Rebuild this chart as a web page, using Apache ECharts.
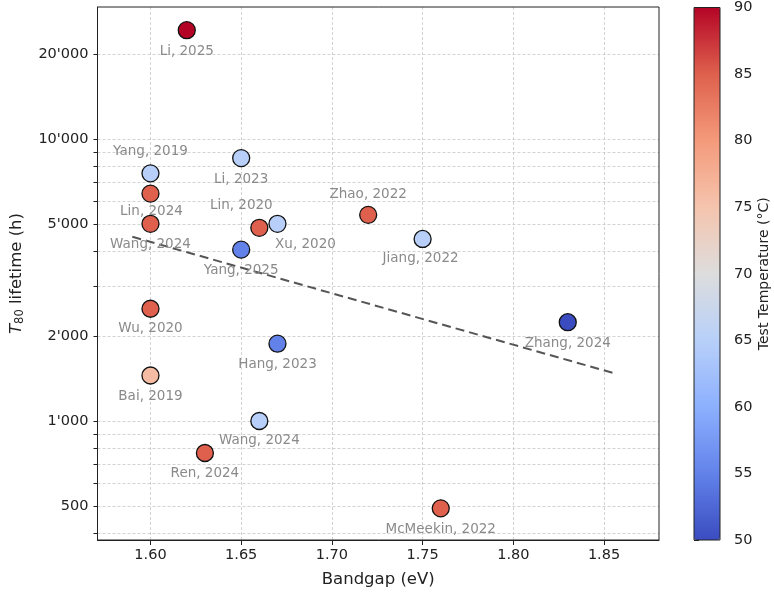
<!DOCTYPE html>
<html>
<head>
<meta charset="utf-8">
<script src="https://cdn.jsdelivr.net/npm/echarts@6/dist/echarts.min.js"></script>
<style>
  html, body { margin: 0; padding: 0; background: #fff; }
  #chart { width: 774px; height: 595px; }
</style>
</head>
<body>
<div id="chart"></div>
<script>
// study labels, bandgap (eV), T80 lifetime (h), test temperature (°C)
var names = ['McMeekin, 2022', 'Ren, 2024', 'Wang, 2024', 'Bai, 2019', 'Hang, 2023', 'Wu, 2020',
  'Zhang, 2024', 'Yang, 2025', 'Jiang, 2022', 'Xu, 2020', 'Lin, 2020', 'Wang, 2024', 'Lin, 2024',
  'Zhao, 2022', 'Yang, 2019', 'Li, 2023', 'Li, 2025'];
var bandgap = [1.76, 1.63, 1.66, 1.60, 1.67, 1.60, 1.83, 1.65, 1.75, 1.67, 1.66, 1.60, 1.60, 1.72, 1.60, 1.65, 1.62];
var lifetime = [490, 770, 1000, 1450, 1880, 2500, 2240, 4050, 4420, 5000, 4840, 5000, 6400, 5380, 7550, 8550, 24300];
var temperature = [85, 85, 65, 76, 55, 85, 50, 55, 65, 65, 85, 85, 85, 85, 65, 65, 90];

// trend line endpoints
var trendX = [1.59, 1.855];
var trendY = [4500, 1480];

var xTicks = [1.60, 1.65, 1.70, 1.75, 1.80, 1.85];
var yLabels = [500, 1000, 2000, 5000, 10000, 20000];
var yTicks = [400, 500, 600, 700, 800, 900, 1000, 2000, 3000, 4000, 5000, 6000, 7000, 8000, 9000, 10000, 20000];

// label offsets (label centre minus marker centre), px
var labelOffsets = [[0, 21], [0, 20], [0, 20], [0, 21], [0, 21], [0, 20], [0, 21], [0, 21], [-2, 20],
  [28, 21], [-18, -22], [0, 21], [1, 18], [0, -20], [0, -22], [0, 21], [0, 21]];

var coolwarm = ['#3b4cc0', '#6282ea', '#8db0fe', '#b8d0f9', '#dddddd', '#f5c4ad', '#f49a7b', '#de604d', '#b40426'];

var points = names.map(function (n, i) {
  return {
    name: n,
    value: [bandgap[i], lifetime[i], temperature[i]],
    label: { offset: labelOffsets[i] }
  };
});

function fmtThousands(v) {
  var s = String(Math.round(v));
  return s.replace(/\B(?=(\d{3})+(?!\d))/g, "'");
}

var dom = document.getElementById('chart');
var myChart = echarts.init(dom);
var font = 'DejaVu Sans';

option = {
  backgroundColor: '#fff',
  animation: false,
  textStyle: { fontFamily: font },
  grid: [
    { left: 97, right: 115, top: 7, bottom: 55, show: true, borderColor: '#222', borderWidth: 1, z: 5 },
    { left: 694, width: 26, top: 7, height: 533, show: true, borderColor: '#222', borderWidth: 1, z: 10 }
  ],
  xAxis: [
    {
      type: 'value', gridIndex: 0, min: 1.5708, max: 1.8803,
      name: 'Bandgap (eV)', nameLocation: 'middle', nameGap: 31,
      nameTextStyle: { fontSize: 16.5, color: '#222', fontFamily: font },
      axisLine: { show: true, lineStyle: { color: '#222', width: 1 } },
      axisTick: { show: true, customValues: xTicks, length: 5, lineStyle: { color: '#222' } },
      axisLabel: { customValues: xTicks, color: '#222', fontSize: 14.5, margin: 8,
        formatter: function (v) { return v.toFixed(2); } },
      splitLine: { show: true, lineStyle: { color: '#c8c8c8', type: [3, 2], width: 0.8 } }
    },
    { type: 'value', gridIndex: 1, min: 0, max: 1, show: false }
  ],
  yAxis: [
    {
      type: 'log', gridIndex: 0, logBase: 10, min: 378.5, max: 29360,
      name: '{it|T}{sub|80} lifetime (h)', nameLocation: 'middle', nameGap: 71, nameRotate: 90,
      nameTextStyle: {
        fontSize: 16.5, color: '#222', fontFamily: font,
        rich: {
          it: { fontSize: 16.5, fontStyle: 'italic', color: '#222', fontFamily: font },
          sub: { fontSize: 11.5, color: '#222', fontFamily: font, padding: [8, 0, 0, 0] }
        }
      },
      axisLine: { show: true, lineStyle: { color: '#222', width: 1 } },
      axisTick: { show: true, customValues: yTicks, length: 4, lineStyle: { color: '#222' } },
      axisLabel: { customValues: yLabels, color: '#222', fontSize: 14.5, margin: 9, formatter: fmtThousands },
      splitLine: { show: true, lineStyle: { color: '#c8c8c8', type: [3, 2], width: 0.8 } },
      minorTick: { show: false }
    },
    {
      type: 'value', gridIndex: 1, position: 'right', min: 50, max: 90, interval: 5,
      name: 'Test Temperature (°C)', nameLocation: 'middle', nameGap: 37, nameRotate: 90,
      nameTextStyle: { fontSize: 14, color: '#222', fontFamily: font },
      axisLine: { show: false },
      axisTick: { show: true, length: 5, lineStyle: { color: '#222' } },
      axisLabel: { color: '#222', fontSize: 14.5, margin: 14 },
      splitLine: { show: false }
    }
  ],
  visualMap: {
    type: 'continuous', min: 50, max: 90, dimension: 2, seriesIndex: 0,
    inRange: { color: coolwarm },
    orient: 'vertical', left: 694, top: 7, itemWidth: 26, itemHeight: 533,
    padding: 0, calculable: false, text: null, showLabel: false, hoverLink: false
  },
  series: [
    {
      type: 'scatter', xAxisIndex: 0, yAxisIndex: 0,
      symbolSize: 17, data: points, z: 3,
      itemStyle: { borderColor: '#111', borderWidth: 1.3, opacity: 1 },
      label: {
        show: true, position: 'inside', color: '#8a8a8a', fontSize: 13.5, fontFamily: font,
        formatter: function (p) { return p.name; }
      }
    },
    {
      type: 'line', xAxisIndex: 0, yAxisIndex: 0, z: 2,
      data: trendX.map(function (x, i) { return [x, trendY[i]]; }),
      symbol: 'none', silent: true,
      lineStyle: { color: '#555', width: 2, type: [9, 5] }
    }
  ]
};

if (option && typeof option === 'object') {
  myChart.setOption(option, true);
}
</script>
</body>
</html>
